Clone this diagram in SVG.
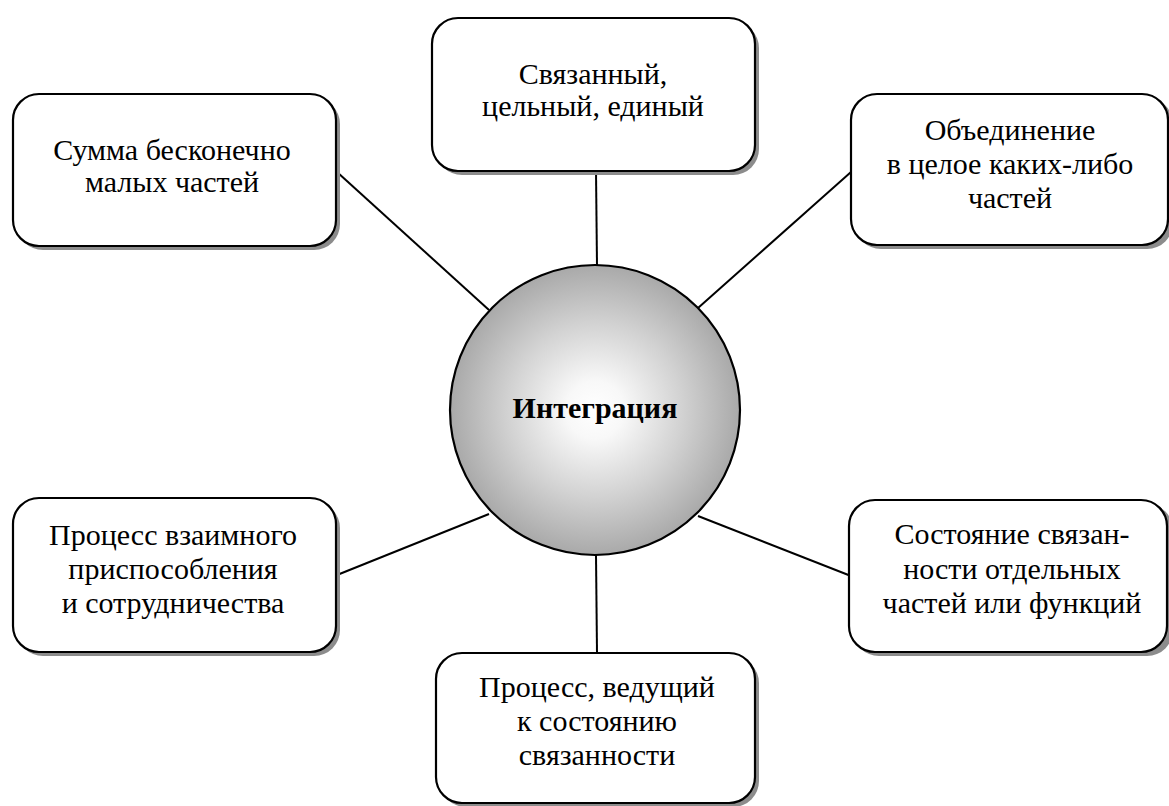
<svg xmlns="http://www.w3.org/2000/svg" width="1169" height="806" viewBox="0 0 1169 806">
  <defs>
    <radialGradient id="sphere" cx="50%" cy="50%" r="50%">
      <stop offset="0" stop-color="#ffffff"/>
      <stop offset="0.2" stop-color="#f8f8f8"/>
      <stop offset="0.6" stop-color="#d2d2d2"/>
      <stop offset="1" stop-color="#a9a9a9"/>
    </radialGradient>
  </defs>
  <style>
    .shadow { fill: #8c8c8c; stroke: none; }
    .box { fill: #ffffff; stroke: #000000; stroke-width: 2.2; }
    .link { stroke: #000000; stroke-width: 2; fill: none; }
    .label { font-family: "Liberation Serif", "Times New Roman", serif; font-size: 30px; fill: #000000; text-anchor: middle; }
    .title { font-family: "Liberation Serif", "Times New Roman", serif; font-size: 30px; font-weight: bold; fill: #000000; text-anchor: middle; }
  </style>
  <rect width="1169" height="806" fill="#ffffff"/>

  <!-- connectors from the central circle to each box -->
  <g id="connectors">
    <line class="link" x1="596" y1="171" x2="597" y2="266"/>
    <line class="link" x1="337" y1="172" x2="489" y2="310"/>
    <line class="link" x1="851" y1="172" x2="698" y2="308"/>
    <line class="link" x1="337" y1="575" x2="489" y2="514"/>
    <line class="link" x1="698" y1="516" x2="851" y2="576"/>
    <line class="link" x1="596" y1="555" x2="597" y2="653"/>
  </g>

  <g id="center">
    <circle cx="595" cy="410" r="145" fill="url(#sphere)" stroke="#000000" stroke-width="2.2"/>
    <text class="title" x="595" y="418">Интеграция</text>
  </g>

  <g id="node-top">
    <rect class="shadow" x="436" y="22" width="323" height="153" rx="26"/>
    <rect class="box" x="432" y="18" width="323" height="153" rx="26"/>
    <text class="label" x="593" y="84">Связанный,</text>
    <text class="label" x="593" y="116">цельный, единый</text>
  </g>

  <g id="node-top-left">
    <rect class="shadow" x="17" y="98" width="323" height="152" rx="26"/>
    <rect class="box" x="13" y="94" width="323" height="152" rx="26"/>
    <text class="label" x="172" y="160">Сумма бесконечно</text>
    <text class="label" x="172" y="192">малых частей</text>
  </g>

  <g id="node-top-right">
    <rect class="shadow" x="855" y="98" width="318" height="151" rx="26"/>
    <rect class="box" x="851" y="94" width="317" height="151" rx="26"/>
    <text class="label" x="1010" y="140">Объединение</text>
    <text class="label" x="1010" y="174">в целое каких-либо</text>
    <text class="label" x="1010" y="208">частей</text>
  </g>

  <g id="node-bottom-left">
    <rect class="shadow" x="17" y="502" width="323" height="154" rx="26"/>
    <rect class="box" x="13" y="498" width="323" height="154" rx="26"/>
    <text class="label" x="173" y="545">Процесс взаимного</text>
    <text class="label" x="173" y="579">приспособления</text>
    <text class="label" x="173" y="613">и сотрудничества</text>
  </g>

  <g id="node-bottom-right">
    <rect class="shadow" x="853" y="504" width="320" height="152" rx="26"/>
    <rect class="box" x="849" y="500" width="318" height="152" rx="26"/>
    <text class="label" x="1012" y="544">Состояние связан-</text>
    <text class="label" x="1012" y="579">ности отдельных</text>
    <text class="label" x="1012" y="613">частей или функций</text>
  </g>

  <g id="node-bottom">
    <rect class="shadow" x="440" y="657" width="319" height="150" rx="26"/>
    <rect class="box" x="436" y="653" width="319" height="150" rx="26"/>
    <text class="label" x="597" y="697">Процесс, ведущий</text>
    <text class="label" x="597" y="731">к состоянию</text>
    <text class="label" x="597" y="765">связанности</text>
  </g>
</svg>
